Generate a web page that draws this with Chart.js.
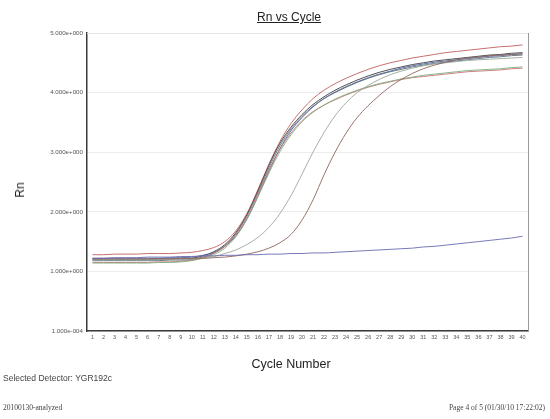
<!DOCTYPE html>
<html>
<head>
<meta charset="utf-8">
<script src="https://cdn.jsdelivr.net/npm/chart.js@4"></script>
<style>
  body { margin: 0; background: #fff; }
  #wrap { position: relative; width: 550px; height: 419px; overflow: hidden; font-family: "Liberation Sans", Arial, sans-serif; }
  #rnChart { position: absolute; left: 0; top: 0; }
  .txt { position: absolute; white-space: nowrap; color: #333; }
  #title { left: 229px; width: 120px; top: 10px; text-align: center; font-size: 12px; line-height: 14px; text-decoration: underline; color: #222; }
  #ytitle { left: 20px; top: 190px; font-size: 12px; line-height: 14px; transform: translate(-50%, -50%) rotate(-90deg); color: #222; }
  #xtitle { left: 231px; width: 120px; top: 357px; text-align: center; font-size: 12.5px; line-height: 14px; color: #222; }
  #detector { left: 3px; top: 373px; font-size: 8.5px; line-height: 10px; color: #444; }
  .foot { font-family: "Liberation Serif", "Times New Roman", serif; font-size: 7.5px; line-height: 9px; top: 403px; color: #444; }
  #run { left: 3px; }
  #page { right: 5px; }
</style>
</head>
<body>
<div id="wrap">
  <canvas id="rnChart" width="550" height="419"></canvas>
  <div class="txt" id="title">Rn vs Cycle</div>
  <div class="txt" id="ytitle">Rn</div>
  <div class="txt" id="xtitle">Cycle Number</div>
  <div class="txt" id="detector">Selected Detector: YGR192c</div>
  <div class="txt foot" id="run">20100130-analyzed</div>
  <div class="txt foot" id="page">Page 4 of 5 (01/30/10 17:22:02)</div>
</div>
<script>
const cycles = Array.from({length: 40}, (_, i) => String(i + 1));

// Rn per cycle for each well
const wellRedHigh = [1.28,1.28,1.29,1.29,1.29,1.30,1.30,1.30,1.31,1.32,
  1.35,1.40,1.50,1.68,1.97,2.37,2.80,3.18,3.48,3.71,
  3.90,4.04,4.15,4.24,4.32,4.39,4.45,4.50,4.54,4.58,
  4.61,4.64,4.67,4.69,4.71,4.73,4.75,4.77,4.78,4.80];
const wellBlack = [1.20,1.20,1.20,1.20,1.20,1.20,1.21,1.21,1.21,1.22,
  1.26,1.33,1.45,1.65,1.95,2.35,2.78,3.15,3.42,3.63,
  3.80,3.93,4.04,4.13,4.21,4.28,4.34,4.39,4.43,4.47,
  4.50,4.53,4.55,4.57,4.59,4.61,4.63,4.64,4.66,4.67];
const wellBlue = [1.22,1.22,1.22,1.22,1.22,1.22,1.22,1.23,1.23,1.24,
  1.27,1.32,1.42,1.60,1.88,2.26,2.68,3.06,3.36,3.58,
  3.76,3.90,4.01,4.10,4.18,4.25,4.31,4.36,4.41,4.45,
  4.48,4.51,4.53,4.55,4.57,4.59,4.61,4.62,4.64,4.65];
const wellSlate = [1.18,1.18,1.18,1.18,1.18,1.18,1.18,1.19,1.19,1.20,
  1.24,1.31,1.43,1.63,1.93,2.32,2.74,3.11,3.39,3.60,
  3.77,3.90,4.00,4.09,4.17,4.24,4.30,4.35,4.39,4.43,
  4.46,4.49,4.51,4.53,4.55,4.57,4.59,4.60,4.62,4.63];
const wellRedLow = [1.15,1.15,1.15,1.15,1.15,1.15,1.16,1.16,1.17,1.19,
  1.23,1.30,1.42,1.62,1.92,2.30,2.70,3.05,3.32,3.53,
  3.68,3.79,3.88,3.96,4.03,4.09,4.14,4.18,4.22,4.25,
  4.27,4.29,4.31,4.33,4.35,4.36,4.37,4.38,4.40,4.41];
const wellGreenLow = [1.14,1.14,1.14,1.14,1.14,1.14,1.15,1.15,1.16,1.18,
  1.22,1.28,1.39,1.58,1.87,2.25,2.65,3.01,3.29,3.51,
  3.67,3.79,3.89,3.97,4.04,4.10,4.15,4.19,4.23,4.26,
  4.29,4.31,4.33,4.35,4.37,4.38,4.39,4.40,4.42,4.43];
const wellLateA = [1.20,1.20,1.20,1.20,1.20,1.20,1.20,1.20,1.21,1.21,
  1.22,1.25,1.30,1.36,1.45,1.57,1.74,1.97,2.27,2.63,
  3.00,3.33,3.61,3.83,4.00,4.12,4.22,4.30,4.36,4.41,
  4.45,4.48,4.50,4.52,4.54,4.55,4.56,4.57,4.58,4.59];
const wellLateB = [1.21,1.21,1.21,1.21,1.21,1.21,1.21,1.21,1.22,1.22,
  1.22,1.23,1.24,1.26,1.29,1.33,1.39,1.48,1.62,1.86,
  2.20,2.62,3.00,3.32,3.58,3.78,3.95,4.10,4.22,4.32,
  4.40,4.46,4.51,4.55,4.58,4.60,4.62,4.63,4.64,4.65];
const wellNoAmp = [1.22,1.22,1.23,1.23,1.23,1.24,1.24,1.24,1.25,1.25,
  1.26,1.26,1.27,1.27,1.28,1.28,1.29,1.29,1.30,1.30,
  1.31,1.31,1.32,1.33,1.34,1.35,1.36,1.37,1.38,1.39,
  1.41,1.42,1.44,1.46,1.48,1.50,1.52,1.54,1.56,1.59];

const yTicks = [0, 1, 2, 3, 4, 5];

function well(data, color) {
  return {
    data: data,
    borderColor: color,
    borderWidth: 0.9,
    pointRadius: 0,
    fill: false,
    cubicInterpolationMode: 'monotone'
  };
}

// thin frame on the top and right side of the plot
const plotFrame = {
  id: 'plotFrame',
  beforeDatasetsDraw(chart) {
    const {ctx, chartArea: a} = chart;
    ctx.save();
    ctx.lineWidth = 1;
    ctx.strokeStyle = '#e4e4e4';
    ctx.beginPath();
    ctx.moveTo(a.left, a.top + 0.5);
    ctx.lineTo(a.right, a.top + 0.5);
    ctx.stroke();
    ctx.strokeStyle = '#9a9a9a';
    ctx.beginPath();
    ctx.moveTo(a.right + 0.5, a.top);
    ctx.lineTo(a.right + 0.5, a.bottom);
    ctx.stroke();
    ctx.restore();
  }
};

new Chart(document.getElementById('rnChart'), {
  type: 'line',
  data: {
    labels: cycles,
    datasets: [
      well(wellNoAmp, '#6a6ab0'),
      well(wellLateB, '#8e645c'),
      well(wellLateA, '#9aa898'),
      well(wellGreenLow, '#7fae80'),
      well(wellRedLow, '#c87272'),
      well(wellSlate, '#5a6e7c'),
      well(wellBlue, '#4d609c'),
      well(wellBlack, '#3e3e3e'),
      well(wellRedHigh, '#c06060')
    ]
  },
  options: {
    responsive: false,
    animation: false,
    layout: { padding: { left: 8, right: 22, top: 33, bottom: 28 } },
    plugins: { legend: { display: false }, tooltip: { enabled: false } },
    scales: {
      x: {
        type: 'category',
        offset: true,
        grid: { display: false, drawTicks: false },
        border: { display: true, color: '#3a3a3a', width: 1.5 },
        ticks: {
          autoSkip: false, maxRotation: 0, padding: 3,
          color: '#555', font: { family: 'Liberation Sans', size: 5.5 }
        },
        afterFit(scale) { scale.height = 60; }
      },
      y: {
        min: 0, max: 5,
        afterBuildTicks(scale) { scale.ticks = yTicks.map(v => ({value: v})); },
        grid: { color: '#ececec', lineWidth: 1, drawTicks: false },
        border: { display: true, color: '#3a3a3a', width: 1.5 },
        ticks: {
          padding: 4,
          color: '#555', font: { family: 'Liberation Sans', size: 6.2 },
          callback: v => v === 0 ? '1.000e-004' : v.toFixed(3) + 'e+000'
        },
        afterFit(scale) { scale.width = 79; }
      }
    }
  },
  plugins: [plotFrame]
});
</script>
</body>
</html>
